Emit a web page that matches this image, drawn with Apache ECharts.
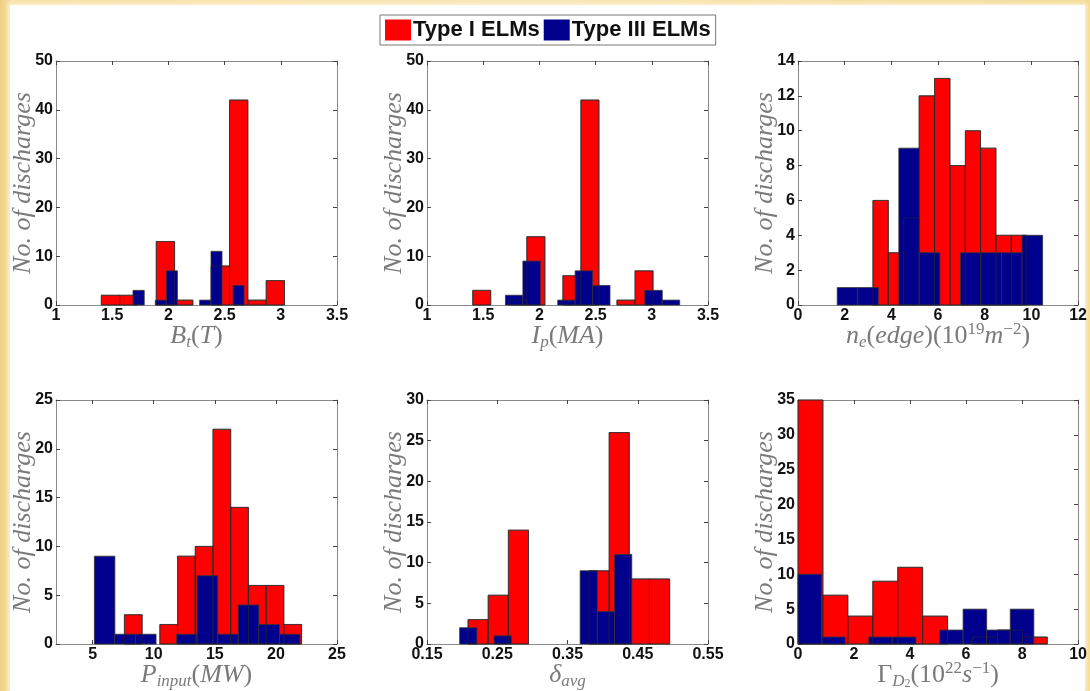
<!DOCTYPE html>
<html>
<head>
<meta charset="utf-8">
<script src="https://cdn.jsdelivr.net/npm/echarts@6/dist/echarts.min.js"></script>
<style>
  html, body { margin: 0; padding: 0; }
  body { width: 1090px; height: 691px; position: relative; overflow: hidden;
         background: linear-gradient(90deg, #efcf82 0%, #f6e0a6 1%, #f8e6b4 50%, #f3d994 100%); }
  #frame { position: absolute; left: 10px; top: 5px; width: 1075px; height: 686px; background: #ffffff;
           box-shadow: 0 0 4px 2px #fbf0cf; }
  #chart { position: absolute; left: 0; top: 0; width: 1090px; height: 691px; }
</style>
</head>
<body>
<div id="frame"></div>
<div id="chart"></div>
<script>
// ---------- DATA ----------
const seriesNames = ['Type I ELMs', 'Type III ELMs'];
const yAxisTitle = 'No. of discharges';

// Panel 1: B_t (T)
const btRedEdges  = [1.403, 1.566, 1.729, 1.892, 2.055, 2.218, 2.381, 2.544, 2.707, 2.870, 3.033];
const btRedCounts = [2, 2, 0, 13, 1, 0, 8, 42, 1, 5];
const btBlueEdges  = [1.685, 1.785, 1.884, 1.982, 2.080, 2.178, 2.278, 2.379, 2.477, 2.575, 2.673];
const btBlueCounts = [3, 0, 1, 7, 0, 0, 1, 11, 0, 4];
const btXTicks = [1, 1.5, 2, 2.5, 3, 3.5];
const btYTicks = [0, 10, 20, 30, 40, 50];

// Panel 2: I_p (MA)
const ipRedEdges  = [1.407, 1.567, 1.728, 1.888, 2.049, 2.209, 2.369, 2.530, 2.690, 2.851, 3.011];
const ipRedCounts = [3, 0, 1, 14, 0, 6, 42, 0, 1, 7];
const ipBlueEdges  = [1.698, 1.853, 2.008, 2.163, 2.318, 2.473, 2.628, 2.783, 2.938, 3.093, 3.248];
const ipBlueCounts = [2, 9, 0, 1, 7, 4, 0, 0, 3, 1];
const ipXTicks = [1, 1.5, 2, 2.5, 3, 3.5];
const ipYTicks = [0, 10, 20, 30, 40, 50];

// Panel 3: n_e(edge) (10^19 m^-2)
const neRedEdges  = [3.21, 3.87, 4.53, 5.19, 5.85, 6.51, 7.17, 7.82, 8.48, 9.14, 9.80];
const neRedCounts = [6, 3, 5, 12, 13, 8, 10, 9, 4, 4];
const neBlueEdges  = [1.68, 2.56, 3.44, 4.32, 5.20, 6.08, 6.96, 7.84, 8.72, 9.60, 10.48];
const neBlueCounts = [1, 1, 0, 9, 3, 0, 3, 3, 3, 4];
const neXTicks = [0, 2, 4, 6, 8, 10, 12];
const neYTicks = [0, 2, 4, 6, 8, 10, 12, 14];

// Panel 4: P_input (MW)
const pRedEdges  = [7.60, 9.05, 10.50, 11.95, 13.40, 14.85, 16.30, 17.75, 19.20, 20.65, 22.10];
const pRedCounts = [3, 0, 2, 9, 10, 22, 14, 6, 6, 2];
const pBlueEdges  = [5.14, 6.82, 8.50, 10.19, 11.87, 13.55, 15.24, 16.92, 18.60, 20.29, 21.97];
const pBlueCounts = [9, 1, 1, 0, 1, 7, 1, 4, 2, 1];
const pXRange = [2, 25];
const pXTicks = [5, 10, 15, 20, 25];
const pYTicks = [0, 5, 10, 15, 20, 25];

// Panel 5: delta_avg
const dRedEdges  = [0.2084, 0.2371, 0.2658, 0.2945, 0.3232, 0.3519, 0.3806, 0.4093, 0.4380, 0.4667, 0.4954];
const dRedCounts = [3, 6, 14, 0, 0, 0, 9, 26, 8, 8];
const dBlueEdges  = [0.1965, 0.2210, 0.2455, 0.2700, 0.2945, 0.3190, 0.3435, 0.3680, 0.3925, 0.4170, 0.4415];
const dBlueCounts = [2, 0, 1, 0, 0, 0, 0, 9, 4, 11];
const dXTicks = [0.15, 0.25, 0.35, 0.45, 0.55];
const dYTicks = [0, 5, 10, 15, 20, 25, 30];

// Panel 6: Gamma_D2 (10^22 s^-1)
const gRedEdges  = [0, 0.89, 1.78, 2.67, 3.56, 4.45, 5.34, 6.23, 7.12, 8.01, 8.90];
const gRedCounts = [35, 7, 4, 9, 11, 4, 0, 1, 2, 1];
const gBlueEdges  = [0, 0.842, 1.684, 2.526, 3.368, 4.210, 5.052, 5.894, 6.736, 7.578, 8.420];
const gBlueCounts = [10, 1, 0, 1, 1, 0, 2, 5, 2, 5];
const gXTicks = [0, 2, 4, 6, 8, 10];
const gYTicks = [0, 5, 10, 15, 20, 25, 30, 35];

// ---------- STYLE / LAYOUT ----------
const RED = '#ff0000', BLUE = '#00008c', EDGE = '#333333';
const LABEL_GRAY = '#7a7a7a', AXIS_GRAY = '#8a8a8a', TICK_COL = '#444444';
const SERIF = 'Liberation Serif';
const SANS = 'Liberation Sans';

const gridBoxes = [
  { left: 56,  top: 61,  width: 281, height: 244 },
  { left: 427, top: 61,  width: 281, height: 244 },
  { left: 798, top: 61,  width: 281, height: 244 },
  { left: 56,  top: 400, width: 281, height: 244 },
  { left: 427, top: 400, width: 281, height: 244 },
  { left: 798, top: 400, width: 281, height: 244 }
];

const xNames = [
  '{i|B}{s|t}{n|(}{i|T}{n|)}',
  '{i|I}{s|p}{n|(}{i|MA}{n|)}',
  '{i|n}{s|e}{n|(}{i|edge}{n|)(10}{p|19}{i|m}{p|−2}{n|)}',
  '{i|P}{s|input}{n|(}{i|MW}{n|)}',
  '{i|δ}{s|avg}',
  '{n|Γ}{s|D}{ss|2}{n|(10}{p|22}{i|s}{p|−1}{n|)}'
];

const richStyles = {
  i:  { fontFamily: SERIF, fontStyle: 'italic', fontSize: 26, lineHeight: 30, color: LABEL_GRAY },
  n:  { fontFamily: SERIF, fontSize: 26, lineHeight: 30, color: LABEL_GRAY },
  s:  { fontFamily: SERIF, fontStyle: 'italic', fontSize: 17, lineHeight: 13, verticalAlign: 'bottom', color: LABEL_GRAY },
  ss: { fontFamily: SERIF, fontSize: 12, lineHeight: 7, verticalAlign: 'bottom', color: LABEL_GRAY },
  p:  { fontFamily: SERIF, fontSize: 17, lineHeight: 14, verticalAlign: 'top', color: LABEL_GRAY }
};

function toBins(edges, counts) {
  return counts.map((c, k) => [edges[k], edges[k + 1], c]);
}

const panels = [
  { red: toBins(btRedEdges, btRedCounts), blue: toBins(btBlueEdges, btBlueCounts), xr: [btXTicks[0], btXTicks[btXTicks.length - 1]], xt: btXTicks, yt: btYTicks },
  { red: toBins(ipRedEdges, ipRedCounts), blue: toBins(ipBlueEdges, ipBlueCounts), xr: [ipXTicks[0], ipXTicks[ipXTicks.length - 1]], xt: ipXTicks, yt: ipYTicks },
  { red: toBins(neRedEdges, neRedCounts), blue: toBins(neBlueEdges, neBlueCounts), xr: [neXTicks[0], neXTicks[neXTicks.length - 1]], xt: neXTicks, yt: neYTicks },
  { red: toBins(pRedEdges, pRedCounts),   blue: toBins(pBlueEdges, pBlueCounts),   xr: pXRange, xt: pXTicks, yt: pYTicks },
  { red: toBins(dRedEdges, dRedCounts),   blue: toBins(dBlueEdges, dBlueCounts),   xr: [dXTicks[0], dXTicks[dXTicks.length - 1]], xt: dXTicks, yt: dYTicks },
  { red: toBins(gRedEdges, gRedCounts),   blue: toBins(gBlueEdges, gBlueCounts),   xr: [gXTicks[0], gXTicks[gXTicks.length - 1]], xt: gXTicks, yt: gYTicks }
];

function barRenderer(fill, stroke, lw) {
  return function (params, api) {
    const x0 = api.value(0), x1 = api.value(1), c = api.value(2);
    if (!c) return null;
    const p0 = api.coord([x0, c]);
    const p1 = api.coord([x1, 0]);
    return {
      type: 'rect',
      shape: { x: p0[0], y: p0[1], width: p1[0] - p0[0], height: p1[1] - p0[1] },
      style: { fill: fill, stroke: stroke, lineWidth: lw }
    };
  };
}

const tickLabelStyle = { fontFamily: SANS, fontWeight: 'bold', fontSize: 16, color: '#111111' };

const xAxes = [], yAxes = [], series = [];
panels.forEach((p, i) => {
  const common = {
    gridIndex: i, type: 'value',
    splitLine: { show: false },
    axisLine: { show: true, onZero: false, lineStyle: { color: AXIS_GRAY, width: 1 } },
    axisTick: { show: true, inside: true, length: 4, customValues: null, lineStyle: { color: TICK_COL } }
  };
  xAxes.push(Object.assign({}, common, {
    position: 'bottom', min: p.xr[0], max: p.xr[1],
    axisTick: Object.assign({}, common.axisTick, { customValues: p.xt }),
    axisLabel: Object.assign({ margin: 3, customValues: p.xt }, tickLabelStyle),
    name: xNames[i], nameLocation: 'middle', nameGap: 16, nameMoveOverlap: false,
    nameTextStyle: { rich: richStyles }
  }));
  xAxes.push(Object.assign({}, common, {
    position: 'top', min: p.xr[0], max: p.xr[1],
    axisTick: Object.assign({}, common.axisTick, { customValues: p.xt }),
    axisLabel: { show: false }
  }));
  yAxes.push(Object.assign({}, common, {
    position: 'left', min: p.yt[0], max: p.yt[p.yt.length - 1],
    axisTick: Object.assign({}, common.axisTick, { customValues: p.yt }),
    axisLabel: Object.assign({ margin: 3, customValues: p.yt }, tickLabelStyle),
    name: yAxisTitle, nameLocation: 'middle', nameGap: 20, nameMoveOverlap: false,
    nameTextStyle: { fontFamily: SERIF, fontStyle: 'italic', fontSize: 26, color: LABEL_GRAY }
  }));
  yAxes.push(Object.assign({}, common, {
    position: 'right', min: p.yt[0], max: p.yt[p.yt.length - 1],
    axisTick: Object.assign({}, common.axisTick, { customValues: p.yt }),
    axisLabel: { show: false }
  }));
  series.push({
    type: 'custom', name: seriesNames[0], xAxisIndex: 2 * i, yAxisIndex: 2 * i,
    data: p.red, encode: { x: [0, 1], y: 2 }, z: 2,
    itemStyle: { color: RED }, renderItem: barRenderer(RED, EDGE, 0.8)
  });
  series.push({
    type: 'custom', name: seriesNames[1], xAxisIndex: 2 * i, yAxisIndex: 2 * i,
    data: p.blue, encode: { x: [0, 1], y: 2 }, z: 3,
    itemStyle: { color: BLUE }, renderItem: barRenderer(BLUE, EDGE, 0.8)
  });
  series.push({
    type: 'custom', name: 'red-outline', xAxisIndex: 2 * i, yAxisIndex: 2 * i,
    data: p.red, encode: { x: [0, 1], y: 2 }, z: 4, silent: true,
    itemStyle: { color: 'rgba(0,0,0,0)' }, renderItem: barRenderer('none', 'rgba(40,40,40,0.75)', 0.7)
  });
});

const chart = echarts.init(document.getElementById('chart'), null, { renderer: 'canvas' });
chart.setOption({
  animation: false,
  backgroundColor: 'transparent',
  legend: {
    data: seriesNames.map(n => ({ name: n, icon: 'rect' })),
    left: 380, top: 15,
    itemWidth: 26, itemHeight: 21, itemGap: 4,
    padding: [4, 5, 4, 5],
    backgroundColor: '#ffffff', borderColor: '#777777', borderWidth: 1, borderRadius: 0,
    textStyle: { fontFamily: SANS, fontWeight: 'bold', fontSize: 22, color: '#111111', padding: [0, 0, 0, -3] },
    selectedMode: false
  },
  grid: gridBoxes.map(g => Object.assign({ containLabel: false, show: false }, g)),
  xAxis: xAxes,
  yAxis: yAxes,
  series: series
});
</script>
</body>
</html>
